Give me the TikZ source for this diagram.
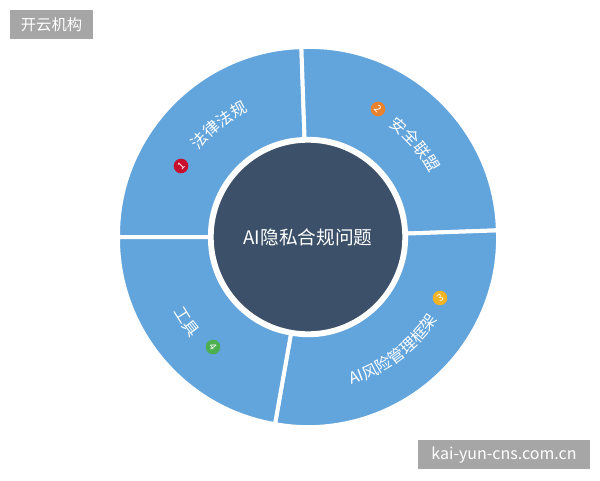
\documentclass[tikz,border=0pt]{standalone}
\usepackage{fontspec}
\setmainfont{Noto Sans CJK SC}
\usetikzlibrary{decorations.text}
\definecolor{ringblue}{HTML}{62A4DC}
\definecolor{coredark}{HTML}{3C5169}
\definecolor{taggray}{HTML}{A6A6A6}
\definecolor{badgered}{HTML}{C8102E}
\definecolor{badgeorange}{HTML}{E9822E}
\definecolor{badgeyellow}{HTML}{F2B324}
\definecolor{badgegreen}{HTML}{4CAF50}
\newcommand{\seglabfont}{\color{white}\fontsize{12}{12}\selectfont}
\tikzset{
  seg/.style={fill=ringblue, draw=white, line width=3pt, rounded corners=1.5pt},
  arclabel/.style={decorate, decoration={text along path, text align=center, text={|\seglabfont|#1}}},
  badge/.style={circle, minimum size=11pt, inner sep=0pt, text=white, font=\fontsize{7.5}{7.5}\selectfont},
  tagbox/.style={fill=taggray, text=white, minimum height=21.75pt, inner sep=0pt},
}
\begin{document}
\begin{tikzpicture}[x=0.75pt,y=0.75pt]
\useasboundingbox (0,0) rectangle (600,480);
\fill[white] (0,0) rectangle (600,480);
\coordinate (C) at (308,243);
% ring segments
\begin{scope}[shift={(C)}]
  \draw[seg] (92:98) arc[start angle=92,end angle=180,radius=98] -- (180:190) arc[start angle=180,end angle=92,radius=190] -- cycle;
  \draw[seg] (2:98) arc[start angle=2,end angle=92,radius=98] -- (92:190) arc[start angle=92,end angle=2,radius=190] -- cycle;
  \draw[seg] (-100:98) arc[start angle=-100,end angle=2,radius=98] -- (2:190) arc[start angle=2,end angle=-100,radius=190] -- cycle;
  \draw[seg] (180:98) arc[start angle=180,end angle=260,radius=98] -- (260:190) arc[start angle=260,end angle=180,radius=190] -- cycle;
  % curved segment labels
  \path[arclabel={法律法规}] (158.5:139) arc[start angle=158.5,end angle=98.5,radius=139];
  \path[arclabel={安全联盟}] (70.7:137.5) arc[start angle=70.7,end angle=10.7,radius=137.5];
  \path[arclabel={AI风险管理框架}] (-88:154) arc[start angle=-88,end angle=-18,radius=154];
  \path[arclabel={工具}] (195:154) arc[start angle=195,end angle=235,radius=154];
\end{scope}
% core
\node[circle, fill=coredark, draw=white, line width=1.5pt, minimum size=143pt, inner sep=0pt,
      text=white, font=\fontsize{14}{14}\selectfont] (core) at (C) {AI隐私合规问题};
% badges
\node[badge, fill=badgered, rotate=45] (b1) at (181,314) {1};
\node[badge, fill=badgeorange, rotate=-45] (b2) at (378,371) {2};
\node[badge, fill=badgeyellow, rotate=35] (b3) at (440,182) {3};
\node[badge, fill=badgegreen, rotate=-55] (b4) at (213,133) {4};
% tags
\node[tagbox, minimum width=62.25pt, font=\fontsize{11.5}{11.5}\selectfont] (tagA) at (51.5,455.5) {开云机构};
\node[tagbox, minimum width=129pt, font=\fontsize{12}{12}\selectfont] (tagB) at (504,25.5) {kai-yun-cns.com.cn};
\end{tikzpicture}
\end{document}
